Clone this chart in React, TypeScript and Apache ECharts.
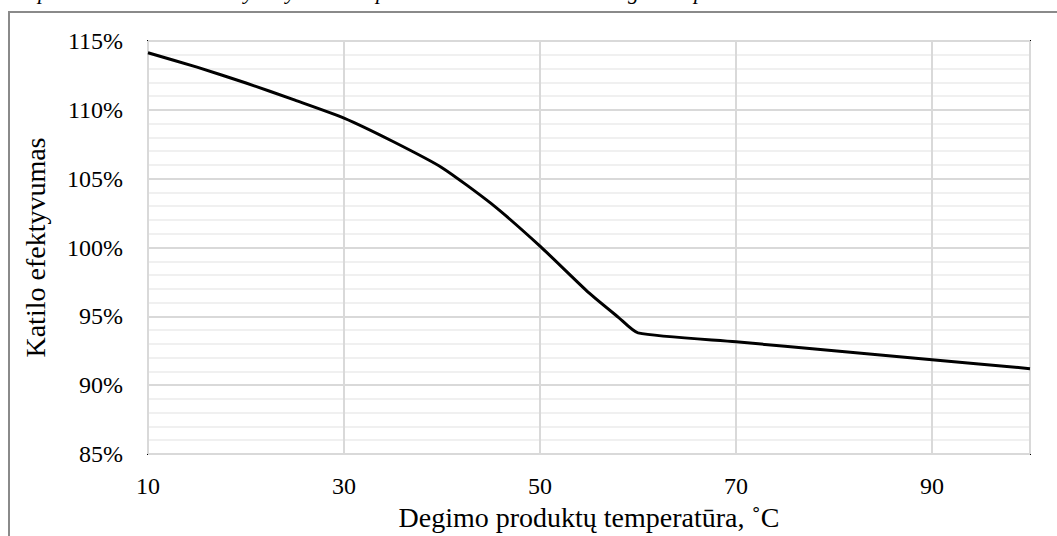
import React, { useEffect, useRef } from "react";
import * as echarts from "echarts";

const temperatures = [10, 15, 20, 25, 30, 35, 40, 45, 50, 55, 58, 60, 70, 80, 90, 100];
const efficiency = [114.15, 113.1, 111.95, 110.7, 109.4, 107.7, 105.8, 103.2, 100.1, 96.7, 94.93, 93.8, 93.15, 92.5, 91.85, 91.2];
const xTitle = "Degimo produktų temperatūra, ˚C";
const yTitle = "Katilo efektyvumas";
const captionGlyphs = ["p", "y", "y", "p", "g", "p"];
const captionX = [38, 244, 286, 376, 628, 694];

const FONT = "Times New Roman, Liberation Serif, DejaVu Serif, serif";

export default function App() {
  const ref = useRef<HTMLDivElement>(null);
  useEffect(() => {
    const chart = echarts.init(ref.current!, null, { renderer: "svg" });
    const data = temperatures.map((t, i) => [t, efficiency[i]]);
    chart.setOption({
      animation: false,
      backgroundColor: "#fff",
      textStyle: { fontFamily: FONT, color: "#000" },
      grid: {
        left: 148,
        top: 41,
        width: 882,
        height: 417,
        show: true,
        borderColor: "#000",
        borderWidth: 2,
        containLabel: false,
      },
      xAxis: {
        type: "value",
        min: 10,
        max: 100,
        interval: 20,
        name: xTitle,
        nameLocation: "middle",
        nameGap: 49,
        nameTextStyle: { fontFamily: FONT, fontSize: 28, color: "#000" },
        axisLine: { show: false },
        axisTick: { show: false },
        axisLabel: { fontFamily: FONT, fontSize: 24, color: "#000", margin: 20, showMaxLabel: false },
        splitLine: { show: true, lineStyle: { color: "#d9d9d9", width: 2 } },
      },
      yAxis: {
        type: "value",
        min: 85,
        max: 115,
        interval: 5,
        name: yTitle,
        nameLocation: "middle",
        nameGap: 99,
        nameTextStyle: { fontFamily: FONT, fontSize: 28, color: "#000" },
        axisLine: { show: false },
        axisTick: { show: false },
        axisLabel: {
          fontFamily: FONT,
          fontSize: 24,
          color: "#000",
          margin: 25,
          formatter: (v: number) => `${v}%`,
        },
        splitLine: { show: true, lineStyle: { color: "#d9d9d9", width: 2 } },
        minorTick: { show: false, splitNumber: 5 },
        minorSplitLine: { show: true, lineStyle: { color: "#f0f0f0", width: 2 } },
      },
      series: [
        {
          type: "line",
          data,
          smooth: 0.2,
          symbol: "none",
          lineStyle: { color: "#000", width: 3 },
        },
      ],
      graphic: [
        {
          type: "rect",
          shape: { x: 9, y: 12, width: 1200, height: 700 },
          style: { fill: "none", stroke: "#8a8a8a", lineWidth: 2 },
          silent: true,
        },
        ...captionGlyphs.map((g, i) => ({
          type: "text",
          x: captionX[i],
          y: -20,
          style: {
            text: g,
            fontFamily: FONT,
            fontStyle: "italic",
            fontSize: 22,
            fill: "#000",
          },
          silent: true,
        })),
      ],
    });
    return () => chart.dispose();
  }, []);
  return (
    <div
      ref={ref}
      style={{ position: "absolute", left: 0, top: 0, width: 1057, height: 536 }}
    />
  );
}
